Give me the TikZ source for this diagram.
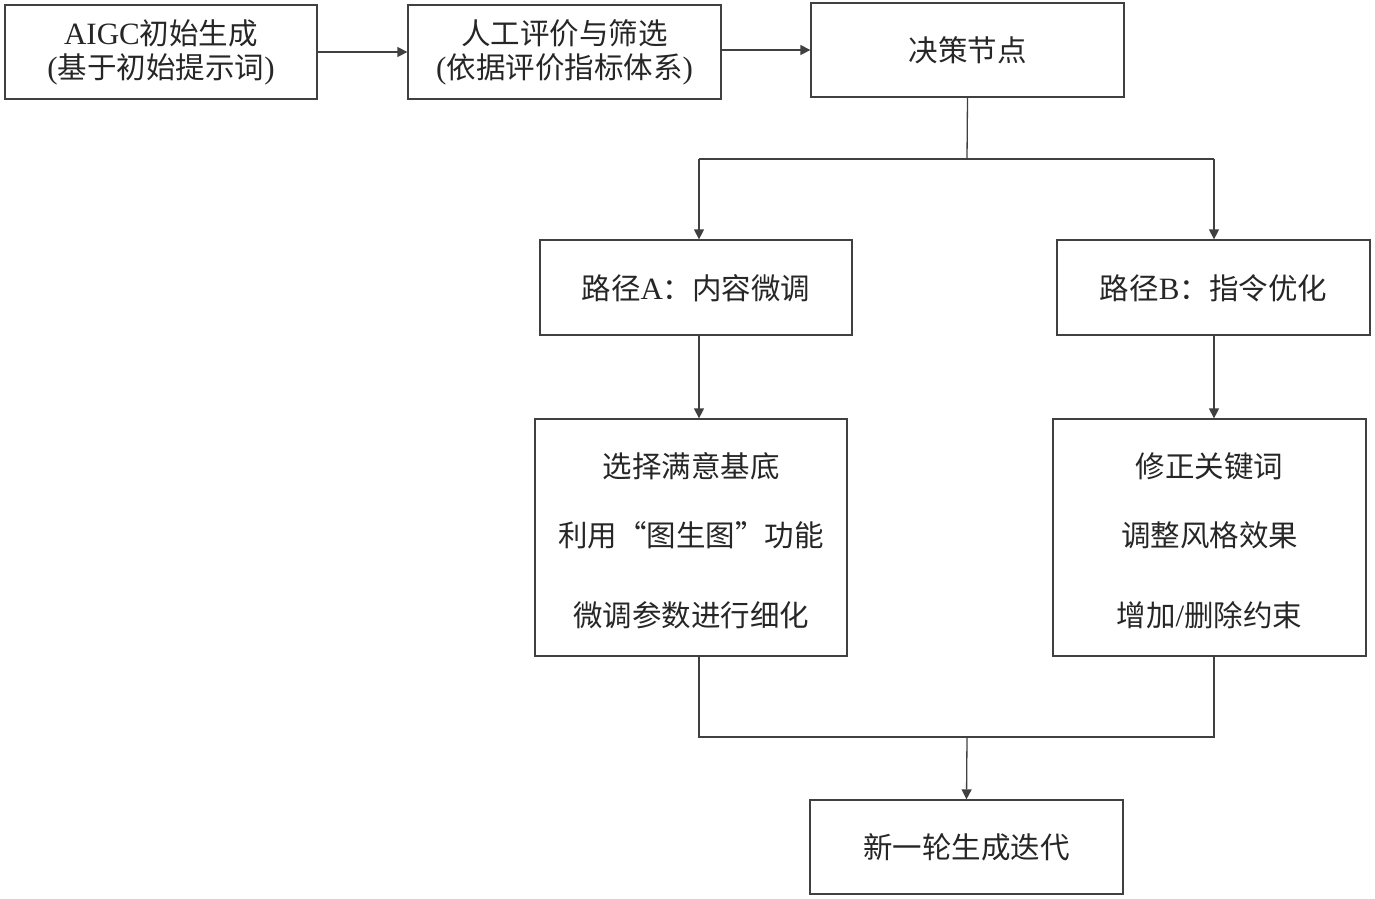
\documentclass[tikz,border=0pt]{standalone}
\usepackage{fontspec}
\setmainfont{Noto Sans CJK SC}
\newfontfamily\latin{Liberation Serif}
\newcommand{\lt}[1]{{\latin\fontsize{31}{36}\selectfont #1}}
\usetikzlibrary{arrows.meta}
\begin{document}
\begin{tikzpicture}[x=1pt,y=-1pt,
  box/.style={draw=black!75,line width=1.3pt,rectangle,inner sep=0pt},
  txt/.style={font=\fontsize{29.5}{35}\selectfont,text=black!85,inner sep=0pt,align=center},
  ln/.style={draw=black!75,line width=1.3pt},
  arr/.style={ln,-{Triangle[length=10pt,width=10pt]}}]
\useasboundingbox (0,0) rectangle (1375,898);
% top row
\node[box,minimum width=312pt,minimum height=94pt] (g) at (161,52) {};
\node[txt] (gt) at (161,52) {\lt{AIGC}初始生成\\[-1pt]\lt{(}基于初始提示词\lt{)}};
\node[box,minimum width=313pt,minimum height=94pt] (e) at (564.5,52) {};
\node[txt] (et) at (564.5,52) {人工评价与筛选\\[-1pt]\lt{(}依据评价指标体系\lt{)}};
\node[box,minimum width=313pt,minimum height=94pt] (d) at (967.5,50) {};
\node[txt] (dt) at (967.5,50) {决策节点};
% paths
\node[box,minimum width=312pt,minimum height=95pt] (a) at (696,287.5) {};
\node[txt] (at) at (696,288) {路径\lt{A}：内容微调};
\node[box,minimum width=313pt,minimum height=95pt] (b) at (1213.5,287.5) {};
\node[txt] (bt) at (1213.5,288) {路径\lt{B}：指令优化};
% details
\node[box,minimum width=312pt,minimum height=237pt] (a2) at (691,537.5) {};
\node[txt] (a21) at (691,466) {选择满意基底};
\node[txt] (a22) at (691,535) {利用“图生图”功能};
\node[txt] (a23) at (691,615) {微调参数进行细化};
\node[box,minimum width=313pt,minimum height=237pt] (b2) at (1209.5,537.5) {};
\node[txt] (b21) at (1209.5,466) {修正关键词};
\node[txt] (b22) at (1209.5,535) {调整风格效果};
\node[txt] (b23) at (1209.5,615) {增加\lt{/}删除约束};
% final
\node[box,minimum width=313pt,minimum height=94pt] (f) at (966.5,847) {};
\node[txt] (ft) at (966.5,847) {新一轮生成迭代};
% junctions
\coordinate (s) at (967,159);
\coordinate (sl) at (699,159);
\coordinate (sr) at (1214,159);
\coordinate (ml) at (699,737);
\coordinate (mr) at (1214,737);
\coordinate (m) at (967,737);
% connectors
\draw[arr] (g.east) -- (e.west);
\draw[arr] (e.east |- d.west) -- (d.west);
\draw[ln] (d.south) -- (s);
\draw[ln] (sl) -- (sr);
\draw[arr] (sl) -- (sl |- a.north);
\draw[arr] (sr) -- (sr |- b.north);
\draw[arr] (sl |- a.south) -- (sl |- a2.north);
\draw[arr] (sr |- b.south) -- (sr |- b2.north);
\draw[ln] (ml |- a2.south) -- (ml) -- (mr) -- (mr |- b2.south);
\draw[arr] (m) -- (f.north);
\end{tikzpicture}
\end{document}
